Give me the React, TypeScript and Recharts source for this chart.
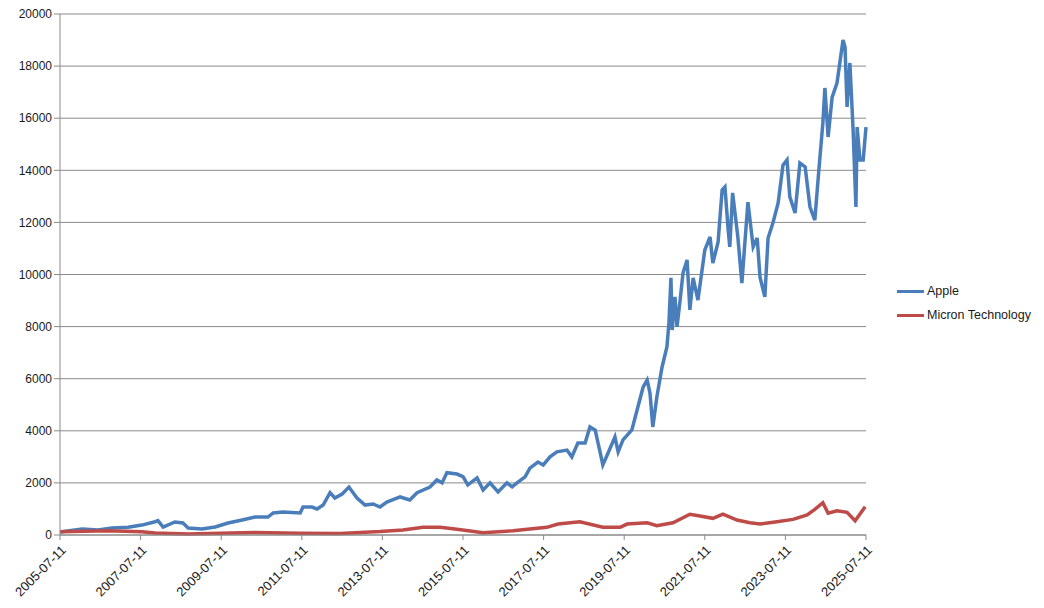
import React from 'react';
import { LineChart, Line, XAxis, YAxis, CartesianGrid } from 'recharts';

// x = years since 2005-07-11
const appleYears = [
  0, 0.55, 0.94, 1.29, 1.69, 2.03, 2.36, 2.43, 2.56, 2.85, 3.05, 3.18, 3.52, 3.85, 4.17, 4.52, 4.84, 5.16, 5.29, 5.53,
  5.96, 6.03, 6.25, 6.38, 6.53, 6.7, 6.82, 7.0, 7.17, 7.37, 7.57, 7.77, 7.94, 8.11, 8.44, 8.68, 8.86, 9.18, 9.35, 9.48,
  9.6, 9.85, 10.0, 10.12, 10.35, 10.5, 10.67, 10.87, 11.09, 11.22, 11.34, 11.54, 11.66, 11.86, 11.99, 12.16, 12.33, 12.58, 12.7, 12.85,
  13.03, 13.15, 13.28, 13.4, 13.47, 13.6, 13.77, 13.85, 13.97, 14.19, 14.32, 14.47, 14.57, 14.64, 14.71, 14.81, 14.94, 15.06, 15.11, 15.16,
  15.19, 15.26, 15.31, 15.38, 15.46, 15.56, 15.63, 15.71, 15.83, 16.0, 16.13, 16.2, 16.33, 16.43, 16.5, 16.58, 16.62, 16.69, 16.82, 16.92,
  17.07, 17.2, 17.3, 17.37, 17.49, 17.57, 17.69, 17.82, 17.94, 18.04, 18.11, 18.24, 18.36, 18.49, 18.61, 18.73, 18.83, 18.93, 18.98, 19.06,
  19.16, 19.28, 19.35, 19.43, 19.48, 19.53, 19.6, 19.68, 19.75, 19.78, 19.85, 19.93, 20.0,
];
const appleValues = [
  115, 230, 190, 270, 300, 380, 510, 550, 300, 500, 460, 270, 230, 310, 460, 575, 690, 690, 845, 880,
  845, 1075, 1075, 1000, 1150, 1625, 1420, 1575, 1840, 1420, 1150, 1190, 1075, 1265, 1460, 1345, 1625, 1840, 2110, 2000,
  2390, 2340, 2240, 1920, 2190, 1730, 2000, 1650, 2000, 1850, 2000, 2230, 2570, 2800, 2690, 3000, 3190, 3260, 3000, 3530,
  3530, 4150, 4030, 3190, 2690, 3150, 3760, 3190, 3650, 4030, 4800, 5680, 5950, 5450, 4150, 5300, 6450, 7220, 8140, 9870,
  7870, 9140, 7990, 8910, 10060, 10560, 8640, 9870, 9020, 10940, 11440, 10440, 11250, 13240, 13360, 11710, 11060, 13130, 11440, 9670,
  12780, 11060, 11400, 9900, 9140, 11400, 11980, 12750, 14200, 14400, 12980, 12360, 14280, 14130, 12590, 12090, 14010, 15820, 17160, 15280,
  16810, 17350, 18120, 19000, 18730, 16430, 18120, 15550, 12590, 15660, 14400, 14400, 15660,
];

const micronYears = [
  0, 1.19, 2.03, 2.36, 3.18, 4.52, 4.84, 5.96, 6.95, 7.94, 8.51, 9.01, 9.43, 9.85, 10.5, 11.24, 12.08, 12.36, 12.66, 12.9,
  13.47, 13.9, 14.07, 14.57, 14.81, 15.21, 15.63, 15.88, 16.2, 16.45, 16.8, 17.12, 17.37, 17.79, 18.19, 18.54, 18.73, 18.93, 19.06, 19.28,
  19.53, 19.73, 19.98,
];
const micronValues = [
  125, 165, 125, 75, 40, 90, 100, 65, 60, 130, 190, 295, 295, 220, 90, 165, 295, 420, 470, 510,
  295, 295, 420, 470, 360, 470, 795, 730, 640, 805, 575, 470, 420, 510, 600, 770, 985, 1240, 835, 930,
  870, 550, 1085,
];

const yTicks = [0, 2000, 4000, 6000, 8000, 10000, 12000, 14000, 16000, 18000, 20000];
const xTickLabels = [
  '2005-07-11', '2007-07-11', '2009-07-11', '2011-07-11', '2013-07-11', '2015-07-11',
  '2017-07-11', '2019-07-11', '2021-07-11', '2023-07-11', '2025-07-11',
];

const appleData = appleYears.map((t, i) => ({ t, value: appleValues[i] }));
const micronData = micronYears.map((t, i) => ({ t, value: micronValues[i] }));
const xTicks = xTickLabels.map((_, i) => i * 2);

const series = [
  { name: 'Apple', color: '#4a7ebb' },
  { name: 'Micron Technology', color: '#be4b48' },
];

const FONT = '"Liberation Sans", "DejaVu Sans", sans-serif';

const XTick = (props: any) => {
  const { x, y, payload } = props;
  return (
    <g transform={`translate(${x + 4},${y + 6})`}>
      <text
        transform="rotate(-45)"
        textAnchor="end"
        dy={4}
        fontSize={13}
        fontFamily={FONT}
        fill="#1a1a1a"
      >
        {xTickLabels[Math.round(payload.value / 2)]}
      </text>
    </g>
  );
};

export default function App() {
  return (
    <div style={{ position: 'relative', width: 1044, height: 608, background: '#fff' }}>
      <style>{`body{margin:0}`}</style>
      <LineChart
        width={1044}
        height={608}
        margin={{ top: 14, right: 178, bottom: 0, left: 0 }}
      >
        <CartesianGrid vertical={false} stroke="#8a8a8a" strokeWidth={1} />
        <XAxis
          dataKey="t"
          type="number"
          domain={[0, 20]}
          ticks={xTicks}
          interval={0}
          allowDuplicatedCategory={false}
          height={73}
          stroke="#8a8a8a"
          tickSize={5}
          tick={<XTick />}
        />
        <YAxis
          type="number"
          domain={[0, 20000]}
          ticks={yTicks}
          interval={0}
          width={60}
          stroke="#8a8a8a"
          tickSize={6}
          tick={{ fontSize: 12, fontFamily: FONT, fill: '#1a1a1a' }}
        />
        <Line
          data={appleData}
          dataKey="value"
          name="Apple"
          type="linear"
          stroke="#4a7ebb"
          strokeWidth={3.5}
          dot={false}
          isAnimationActive={false}
        />
        <Line
          data={micronData}
          dataKey="value"
          name="Micron Technology"
          type="linear"
          stroke="#be4b48"
          strokeWidth={3.5}
          dot={false}
          isAnimationActive={false}
        />
      </LineChart>
      <div
        style={{
          position: 'absolute',
          left: 897,
          top: 279,
          fontFamily: FONT,
          fontSize: 12.5,
          color: '#1a1a1a',
        }}
      >
        {series.map(item => (
          <div key={item.name} style={{ display: 'flex', alignItems: 'center', height: 24 }}>
            <span
              style={{ display: 'inline-block', width: 27, height: 3, background: item.color, marginRight: 3 }}
            />
            <span>{item.name}</span>
          </div>
        ))}
      </div>
    </div>
  );
}
